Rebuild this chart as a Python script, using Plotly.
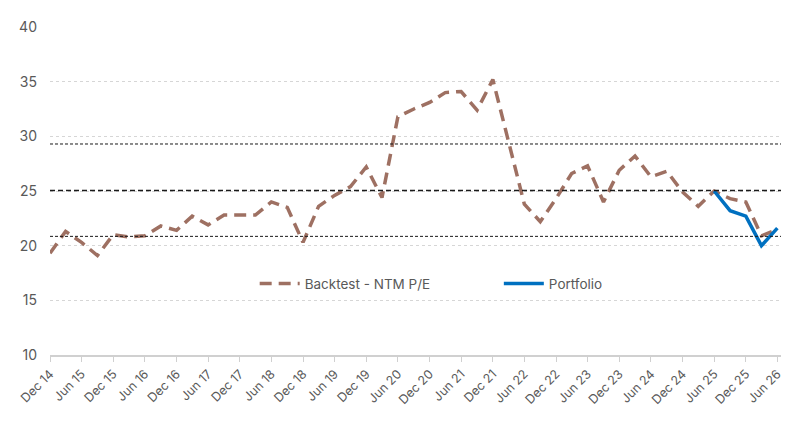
import pandas as pd
import plotly.graph_objects as go


# quarterly NTM P/E, Dec 14 -> Jun 26
quarters = pd.date_range('2014-12-01', '2026-06-01', freq='3MS')
backtest = [19.3, 21.3, 20.3, 19.1, 21.0, 20.8, 20.9, 21.8, 21.4, 22.7,
	21.9, 22.8, 22.8, 22.8, 24.0, 23.5, 20.3, 23.6, 24.6, 25.4,
	27.2, 24.4, 31.8, 32.5, 33.1, 34.0, 34.1, 32.4, 35.2, 29.6,
	23.8, 22.2, 24.3, 26.6, 27.3, 24.0, 26.9, 28.2, 26.3, 26.8,
	24.9, 23.6, 25.0, 24.3, 24.0, 20.9, 21.5]

portfolio_dates = quarters[-5:]
portfolio = [25.0, 23.2, 22.7, 20.0, 21.6]

pe_mean = 25.05
pe_plus_sd = 29.3
pe_minus_sd = 20.85

BROWN = '#9E7062'
BLUE = '#0070C0'
GREY = '#595959'

# page has an 8px body margin, so the figure is shrunk to fit the window
W, H = 786, 414
M = dict(l=38, r=11, t=10, b=67)


fig = go.Figure()

fig.add_trace(go.Scatter(x=quarters, y=backtest, name='Backtest - NTM P/E',
	mode='lines', line=dict(color=BROWN, width=3.5, dash='12px,7px'),
	legend='legend'))
fig.add_trace(go.Scatter(x=portfolio_dates, y=portfolio, name='Portfolio',
	mode='lines', line=dict(color=BLUE, width=3.5),
	legend='legend2'))

fig.add_hline(y=pe_mean, line=dict(color='#1a1a1a', width=1.5, dash='5px,3px'))
fig.add_hline(y=pe_plus_sd, line=dict(color='#1a1a1a', width=1, dash='3px,2px'))
fig.add_hline(y=pe_minus_sd, line=dict(color='#1a1a1a', width=1, dash='3px,2px'))

fig.update_xaxes(
	type='date',
	range=['2014-12-01', '2026-06-22'],
	tick0='2014-12-01', dtick='M6', tickformat='%b %y',
	tickangle=-45,
	ticks='outside', ticklen=5, tickcolor='#D0D0D0',
	showline=True, linecolor='#D0D0D0', linewidth=1.5,
	showgrid=False, zeroline=False,
	tickfont=dict(size=12.5, color=GREY),
)
fig.update_yaxes(
	range=[10, 40], dtick=5,
	showgrid=True, gridcolor='#D6D6D6', griddash='dot', gridwidth=1,
	zeroline=False, showline=False,
	tickfont=dict(size=14, color=GREY),
	ticklabelstandoff=12,
)

leg = dict(orientation='h', yanchor='middle', xanchor='left', y=0.217,
	bgcolor='rgba(0,0,0,0)', font=dict(size=13.5, color=GREY), itemwidth=40)

fig.update_layout(
	width=W, height=H,
	margin=M,
	paper_bgcolor='white', plot_bgcolor='white',
	font=dict(family='Inter, Roboto, sans-serif', color=GREY, size=13),
	showlegend=True,
	legend=dict(leg, x=0.28),
	legend2=dict(leg, x=0.614),
)

fig.write_html("out.html")
